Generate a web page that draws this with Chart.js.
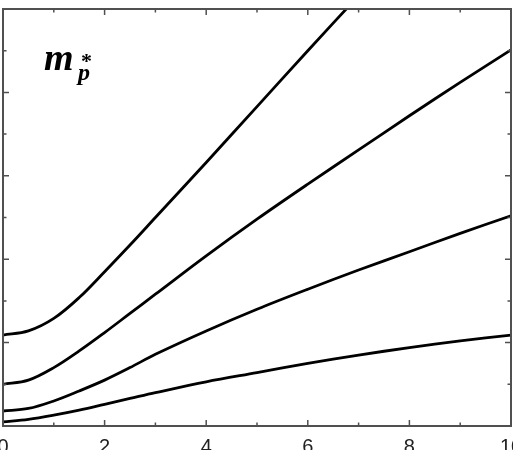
<!DOCTYPE html>
<html>
<head>
<meta charset="utf-8">
<script src="https://cdn.jsdelivr.net/npm/chart.js@4"></script>
<style>
  html, body { margin: 0; padding: 0; background: #fff; overflow: hidden; }
  body { width: 513px; height: 450px; position: relative; }
  #chart { position: absolute; left: -47px; top: -11px; }
</style>
</head>
<body>
<canvas id="chart" width="608" height="477"></canvas>
<script>
// values
const xVals = [0, 0.5, 1, 1.5, 2, 2.5, 3, 4, 5, 6, 7, 8, 9, 10];
const curveA = [1.09, 1.14, 1.29, 1.54, 1.85, 2.17, 2.50, 3.16, 3.83, 4.50, 5.16];
const curveB = [0.50, 0.55, 0.70, 0.90, 1.12, 1.35, 1.58, 2.04, 2.48, 2.90, 3.31, 3.72, 4.12, 4.51];
const curveC = [0.18, 0.21, 0.30, 0.42, 0.55, 0.70, 0.86, 1.14, 1.40, 1.64, 1.87, 2.09, 2.31, 2.52];
const curveD = [0.05, 0.08, 0.13, 0.19, 0.26, 0.33, 0.40, 0.53, 0.64, 0.75, 0.85, 0.94, 1.02, 1.09];
const xTicks = [0, 2, 4, 6, 8, 10];

function toPoints(ys) {
    return ys.map((y, i) => ({ x: xVals[i], y: y }));
}

function lineSet(ys) {
    return {
        data: toPoints(ys),
        borderColor: '#000',
        borderWidth: 2.8,
        pointRadius: 0,
        fill: false,
        tension: 0.35
    };
}

// frame, inward ticks and the m*_p label
const framePlugin = {
    id: 'frame',
    afterDraw(chart) {
        const ctx = chart.ctx;
        const a = chart.chartArea;
        const xs = chart.scales.x;
        const ys = chart.scales.y;
        ctx.save();
        ctx.strokeStyle = '#505050';
        ctx.lineWidth = 2;
        ctx.strokeRect(a.left, a.top, a.right - a.left, a.bottom - a.top);
        ctx.lineWidth = 1.5;
        ctx.beginPath();
        for (let v = 0; v <= 10; v++) {
            const px = xs.getPixelForValue(v);
            const len = v % 2 === 0 ? 6 : 3.5;
            ctx.moveTo(px, a.bottom); ctx.lineTo(px, a.bottom - len);
            ctx.moveTo(px, a.top); ctx.lineTo(px, a.top + len);
        }
        for (let v = 0; v <= 5; v += 0.5) {
            const py = ys.getPixelForValue(v);
            const len = Number.isInteger(v) ? 6 : 3.5;
            ctx.moveTo(a.left, py); ctx.lineTo(a.left + len, py);
            ctx.moveTo(a.right, py); ctx.lineTo(a.right - len, py);
        }
        ctx.stroke();

        ctx.fillStyle = '#000';
        ctx.textBaseline = 'alphabetic';
        ctx.font = 'italic bold 38px "Liberation Serif", "Times New Roman", serif';
        ctx.fillText('m', a.left + 41, a.top + 61);
        ctx.font = 'italic bold 24px "Liberation Serif", "Times New Roman", serif';
        ctx.fillText('p', a.left + 75, a.top + 71);
        ctx.font = 'bold 22px "Liberation Serif", "Times New Roman", serif';
        ctx.fillText('*', a.left + 78, a.top + 59);
        ctx.restore();
    }
};

new Chart(document.getElementById('chart'), {
    type: 'line',
    data: {
        datasets: [lineSet(curveA), lineSet(curveB), lineSet(curveC), lineSet(curveD)]
    },
    options: {
        responsive: false,
        animation: false,
        layout: { padding: { left: 50, right: 50, top: 20, bottom: 0 } },
        plugins: { legend: { display: false }, tooltip: { enabled: false } },
        scales: {
            x: {
                type: 'linear',
                min: 0,
                max: 10,
                afterBuildTicks: (scale) => { scale.ticks = xTicks.map(v => ({ value: v })); },
                afterFit: (scale) => { scale.height = 40; },
                grid: { display: false, drawTicks: false },
                border: { display: false },
                ticks: {
                    color: '#222',
                    padding: 9,
                    maxRotation: 0,
                    font: { family: '"Liberation Sans", Arial, sans-serif', size: 20 }
                }
            },
            y: {
                type: 'linear',
                display: false,
                min: 0,
                max: 5
            }
        }
    },
    plugins: [framePlugin]
});
</script>
</body>
</html>
